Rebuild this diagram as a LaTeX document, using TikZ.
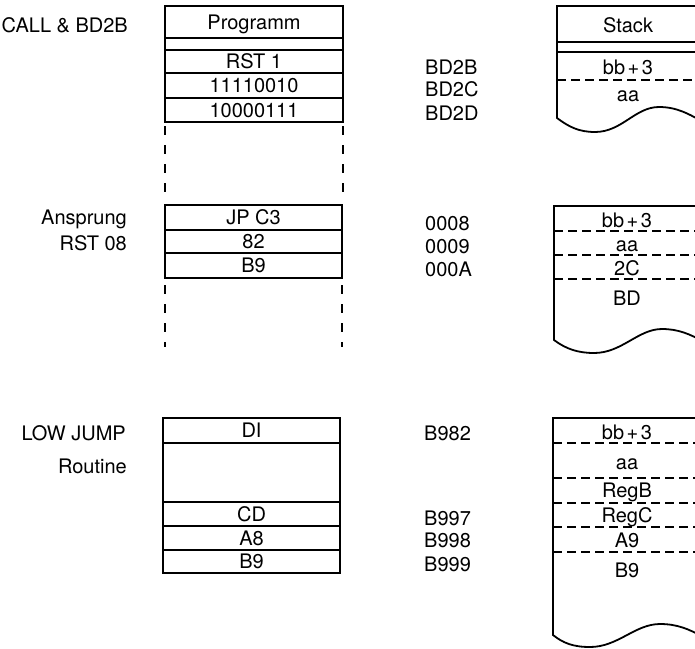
\documentclass[tikz,border=0pt]{standalone}
\usepackage{fontspec}
\setmainfont{TeX Gyre Heros}
\tikzset{
  cell/.style={draw, line width=1.8pt, inner sep=0pt, minimum width=178pt, text height=14.4pt, text depth=0pt},
  lbl/.style={inner sep=0pt, text height=14.4pt, text depth=0pt},
  vdash/.style={line width=1.8pt, dash pattern=on 9pt off 10pt},
  hdash/.style={line width=1.5pt, dash pattern=on 9pt off 5pt},
  stk/.style={line width=1.8pt},
}
\newcommand\bbp{bb\kern2.5pt+\kern2.5pt3}
\begin{document}
\begin{tikzpicture}[x=1pt, y=-1pt, font=\fontsize{20}{24}\selectfont]
\useasboundingbox (0,0) rectangle (695,648);
\clip (0,0) rectangle (695,648);
% left labels
\node[lbl, anchor=east] (lcall) at (128,25) {CALL \& BD2B};
\node[lbl, anchor=east] (lans) at (127,217) {Ansprung};
\node[lbl, anchor=east] (lrst) at (127,243) {RST 08};
\node[lbl, anchor=east] (llow) at (126,433) {LOW JUMP};
\node[lbl, anchor=east] (lrou) at (127,466) {Routine};
% program box 1
\node[cell, minimum height=32pt] (p0) at (254,22) {Programm};
\node[cell, minimum height=12pt, text height=0pt] (p1) at (254,44) {};
\node[cell, minimum height=23pt] (p2) at (254,61.5) {RST 1};
\node[cell, minimum height=25pt] (p3) at (254,85.5) {11110010};
\node[cell, minimum height=24pt] (p4) at (254,110) {10000111};
\draw[vdash] (165,126) -- (165,197);
\draw[vdash] (343,126) -- (343,197);
% program box 2
\node[cell, minimum width=177pt, minimum height=25pt] (q0) at (253.5,217.5) {JP C3};
\node[cell, minimum width=177pt, minimum height=23pt] (q1) at (253.5,241.5) {82};
\node[cell, minimum width=177pt, minimum height=25pt] (q2) at (253.5,265.5) {B9};
\draw[vdash] (165,285) -- (165,347);
\draw[vdash] (342,285) -- (342,347);
% program box 3
\node[cell, minimum width=177pt, minimum height=25pt] (r0) at (251.5,430.5) {DI};
\node[cell, minimum width=177pt, minimum height=59pt, text height=0pt] (r1) at (251.5,472.5) {};
\node[cell, minimum width=177pt, minimum height=24pt] (r2) at (251.5,514) {CD};
\node[cell, minimum width=177pt, minimum height=24pt] (r3) at (251.5,538) {A8};
\node[cell, minimum width=177pt, minimum height=23pt] (r4) at (251.5,561.5) {B9};
% addresses
\node[lbl, anchor=west] (a1) at (425,67) {BD2B};
\node[lbl, anchor=west] (a2) at (425,89) {BD2C};
\node[lbl, anchor=west] (a3) at (425,113) {BD2D};
\node[lbl, anchor=west] (a4) at (425,223) {0008};
\node[lbl, anchor=west] (a5) at (425,246) {0009};
\node[lbl, anchor=west] (a6) at (425,269) {000A};
\node[lbl, anchor=west] (a7) at (424,433) {B982};
\node[lbl, anchor=west] (a8) at (424,518) {B997};
\node[lbl, anchor=west] (a9) at (424,540) {B998};
\node[lbl, anchor=west] (a10) at (424,564) {B999};
% stack 1
\begin{scope}[shift={(557,118)}]
\draw[stk] (150,-112) -- (0,-112) -- (0,0) .. controls (12,9) and (22,14) .. (38,14) .. controls (65,14) and (78,-11) .. (102,-11) .. controls (120,-11) and (132,-4) .. (148,5);
\end{scope}
\draw[stk] (557,42) -- (700,42);
\draw[stk] (557,52) -- (700,52);
\draw[hdash] (557,80) -- (700,80);
\node[lbl] (s0) at (628,25) {Stack};
\node[lbl] (s1) at (628,67) {\bbp};
\node[lbl] (s2) at (628,94) {aa};
% stack 2
\begin{scope}[shift={(554,340)}]
\draw[stk] (150,-134) -- (0,-134) -- (0,0) .. controls (12,9) and (24,13) .. (40,13) .. controls (68,13) and (84,-11) .. (108,-11) .. controls (124,-11) and (136,-6) .. (150,2);
\end{scope}
\draw[hdash] (554,231) -- (700,231);
\draw[hdash] (554,255) -- (700,255);
\draw[hdash] (554,279) -- (700,279);
\node[lbl] (t0) at (627,220) {\bbp};
\node[lbl] (t1) at (627,244) {aa};
\node[lbl] (t2) at (627,268) {2C};
\node[lbl] (t3) at (627,298) {BD};
% stack 3
\begin{scope}[shift={(553,635)}]
\draw[stk] (150,-217) -- (0,-217) -- (0,0) .. controls (10,8) and (20,12) .. (37,12) .. controls (65,12) and (82,-11) .. (107,-11) .. controls (124,-11) and (136,-6) .. (150,2);
\end{scope}
\draw[hdash] (553,443) -- (700,443);
\draw[hdash] (553,478) -- (700,478);
\draw[hdash] (553,503) -- (700,503);
\draw[hdash] (553,527) -- (700,527);
\draw[hdash] (553,552) -- (700,552);
\node[lbl] (u0) at (627,432) {\bbp};
\node[lbl] (u1) at (627,462) {aa};
\node[lbl] (u2) at (627,490) {RegB};
\node[lbl] (u3) at (627,515) {RegC};
\node[lbl] (u4) at (627,540) {A9};
\node[lbl] (u5) at (627,570) {B9};
\end{tikzpicture}
\end{document}
